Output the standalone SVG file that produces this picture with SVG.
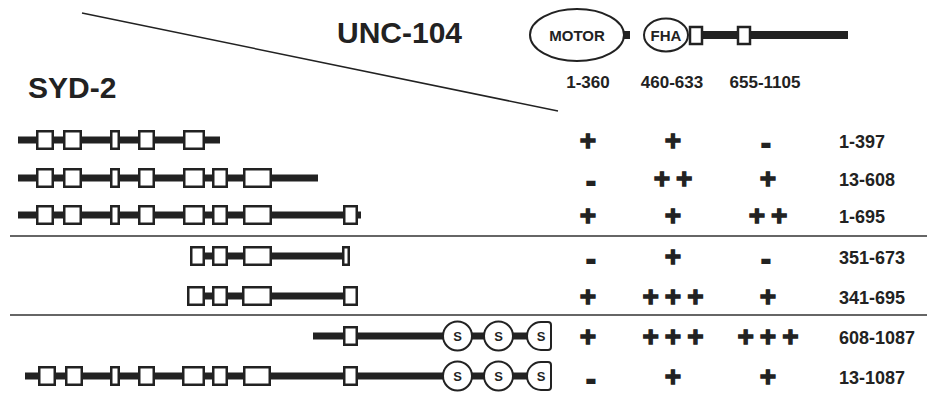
<svg xmlns="http://www.w3.org/2000/svg" width="927" height="399" viewBox="0 0 927 399">
<style>
text{font-family:"Liberation Sans",Arial,sans-serif;font-weight:bold;fill:#222}
.bar{fill:#222}
.box{fill:#fff;stroke:#222;stroke-width:2.5}
.ring{fill:#fff;stroke:#222;stroke-width:2}
.sep{stroke:#333;stroke-width:1.6}
.title{font-size:30px}
.lab{font-size:17px;text-anchor:middle}
.rl{font-size:18px}
.p{font-size:28px;text-anchor:middle;stroke:#222;stroke-width:1.3}
.pp{font-size:28px;text-anchor:middle;letter-spacing:6px;stroke:#222;stroke-width:1.3}
.m{font-size:28px;text-anchor:middle;stroke:#222;stroke-width:2}
.s{font-size:13px;text-anchor:middle}
.dom{font-size:15px;text-anchor:middle}
</style>
<rect width="927" height="399" fill="#fff"/>

<g id="connectors">
  <line x1="82" y1="13" x2="558" y2="111" stroke="#222" stroke-width="1.5"/>
  <line class="sep" x1="10" y1="236" x2="927" y2="236"/>
  <line class="sep" x1="10" y1="315" x2="927" y2="315"/>
</g>

<g id="titles">
  <text class="title" x="337" y="43">UNC-104</text>
  <text class="title" x="28" y="98">SYD-2</text>
</g>

<g id="unc104">
  <ellipse class="ring" cx="577" cy="35" rx="47" ry="26"/>
  <text class="dom" x="577" y="41">MOTOR</text>
  <rect class="bar" x="624" y="31" width="6" height="8"/>
  <ellipse class="ring" cx="666" cy="35" rx="22" ry="16.5"/>
  <text class="dom" x="666" y="41">FHA</text>
  <rect class="bar" x="702" y="31" width="146" height="8"/>
  <rect class="box" x="690" y="27" width="12" height="17"/>
  <rect class="box" x="738" y="27" width="12" height="17"/>
  <text class="lab" x="588" y="88">1-360</text>
  <text class="lab" x="672" y="88">460-633</text>
  <text class="lab" x="765" y="88">655-1105</text>
</g>

<g id="row1-397">
  <rect class="bar" x="18" y="136.5" width="202" height="7"/>
  <rect class="box" x="37.25" y="131.25" width="15.5" height="17.5"/>
  <rect class="box" x="64.25" y="131.25" width="16.5" height="17.5"/>
  <rect class="box" x="111.25" y="131.25" width="7.5" height="17.5"/>
  <rect class="box" x="139.25" y="131.25" width="14.5" height="17.5"/>
  <rect class="box" x="184.25" y="131.25" width="19.5" height="17.5"/>
</g>

<g id="row13-608">
  <rect class="bar" x="18" y="174.5" width="300" height="7"/>
  <rect class="box" x="37.25" y="169.25" width="15.5" height="17.5"/>
  <rect class="box" x="64.25" y="169.25" width="16.5" height="17.5"/>
  <rect class="box" x="111.25" y="169.25" width="7.5" height="17.5"/>
  <rect class="box" x="139.25" y="169.25" width="14.5" height="17.5"/>
  <rect class="box" x="184.25" y="169.25" width="19.5" height="17.5"/>
  <rect class="box" x="213.25" y="169.25" width="13.5" height="17.5"/>
  <rect class="box" x="244.25" y="169.25" width="26.5" height="17.5"/>
</g>

<g id="row1-695">
  <rect class="bar" x="18" y="211.5" width="343" height="7"/>
  <rect class="box" x="37.25" y="206.25" width="15.5" height="17.5"/>
  <rect class="box" x="64.25" y="206.25" width="16.5" height="17.5"/>
  <rect class="box" x="111.25" y="206.25" width="7.5" height="17.5"/>
  <rect class="box" x="139.25" y="206.25" width="14.5" height="17.5"/>
  <rect class="box" x="184.25" y="206.25" width="19.5" height="17.5"/>
  <rect class="box" x="213.25" y="206.25" width="13.5" height="17.5"/>
  <rect class="box" x="244.25" y="206.25" width="26.5" height="17.5"/>
  <rect class="box" x="344.25" y="206.25" width="12.5" height="17.5"/>
</g>

<g id="row351-673">
  <rect class="bar" x="204" y="252.5" width="140" height="7"/>
  <rect class="box" x="191.25" y="247.25" width="12.5" height="17.5"/>
  <rect class="box" x="213.25" y="247.25" width="13.5" height="17.5"/>
  <rect class="box" x="244.25" y="247.25" width="26.5" height="17.5"/>
  <rect class="box" x="343.25" y="247.25" width="5.5" height="17.5"/>
</g>

<g id="row341-695">
  <rect class="bar" x="204" y="292.5" width="140" height="7"/>
  <rect class="box" x="188.25" y="287.25" width="15.5" height="17.5"/>
  <rect class="box" x="213.25" y="287.25" width="13.5" height="17.5"/>
  <rect class="box" x="243.25" y="287.25" width="27.5" height="17.5"/>
  <rect class="box" x="344.25" y="287.25" width="12.5" height="17.5"/>
</g>

<g id="row608-1087">
  <rect class="bar" x="313" y="332.5" width="220" height="7"/>
  <rect class="box" x="344.25" y="327.25" width="12.5" height="17.5"/>
  <circle class="ring" cx="457.5" cy="336" r="14.5"/>
  <text class="s" x="457.5" y="341">S</text>
  <circle class="ring" cx="498.5" cy="336" r="14.5"/>
  <text class="s" x="498.5" y="341">S</text>
  <path class="ring" d="M551,325 Q551,322 548,322 L541,322 A14 14 0 0 0 541,350 L548,350 Q551,350 551,347 Z"/>
  <text class="s" x="541" y="341">S</text>
</g>

<g id="row13-1087">
  <rect class="bar" x="25" y="372.5" width="508" height="7"/>
  <rect class="box" x="39.25" y="367.25" width="15.5" height="17.5"/>
  <rect class="box" x="66.25" y="367.25" width="15.5" height="17.5"/>
  <rect class="box" x="111.25" y="367.25" width="7.5" height="17.5"/>
  <rect class="box" x="139.25" y="367.25" width="14.5" height="17.5"/>
  <rect class="box" x="183.25" y="367.25" width="20.5" height="17.5"/>
  <rect class="box" x="213.25" y="367.25" width="13.5" height="17.5"/>
  <rect class="box" x="244.25" y="367.25" width="25.5" height="17.5"/>
  <rect class="box" x="344.25" y="367.25" width="12.5" height="17.5"/>
  <circle class="ring" cx="457.5" cy="376" r="14.5"/>
  <text class="s" x="457.5" y="381">S</text>
  <circle class="ring" cx="498.5" cy="376" r="14.5"/>
  <text class="s" x="498.5" y="381">S</text>
  <path class="ring" d="M551,365 Q551,362 548,362 L541,362 A14 14 0 0 0 541,390 L548,390 Q551,390 551,387 Z"/>
  <text class="s" x="541" y="381">S</text>
</g>

<g id="results">
  <text class="p" x="588" y="150">+</text>
  <text class="p" x="673" y="150">+</text>
  <text class="m" x="766" y="153">-</text>
  <text class="rl" x="839" y="148">1-397</text>

  <text class="m" x="591" y="191">-</text>
  <text class="pp" x="676" y="188">++</text>
  <text class="p" x="768" y="188">+</text>
  <text class="rl" x="839" y="186">13-608</text>

  <text class="p" x="588" y="225">+</text>
  <text class="p" x="673" y="225">+</text>
  <text class="pp" x="771" y="225">++</text>
  <text class="rl" x="839" y="223">1-695</text>

  <text class="m" x="591" y="269">-</text>
  <text class="p" x="673" y="266">+</text>
  <text class="m" x="766" y="269">-</text>
  <text class="rl" x="839" y="264">351-673</text>

  <text class="p" x="588" y="306">+</text>
  <text class="pp" x="676" y="306">+++</text>
  <text class="p" x="768" y="306">+</text>
  <text class="rl" x="839" y="304">341-695</text>

  <text class="p" x="588" y="346">+</text>
  <text class="pp" x="676" y="346">+++</text>
  <text class="pp" x="771" y="346">+++</text>
  <text class="rl" x="839" y="344">608-1087</text>

  <text class="m" x="591" y="389">-</text>
  <text class="p" x="673" y="386">+</text>
  <text class="p" x="768" y="386">+</text>
  <text class="rl" x="839" y="384">13-1087</text>
</g>
</svg>
